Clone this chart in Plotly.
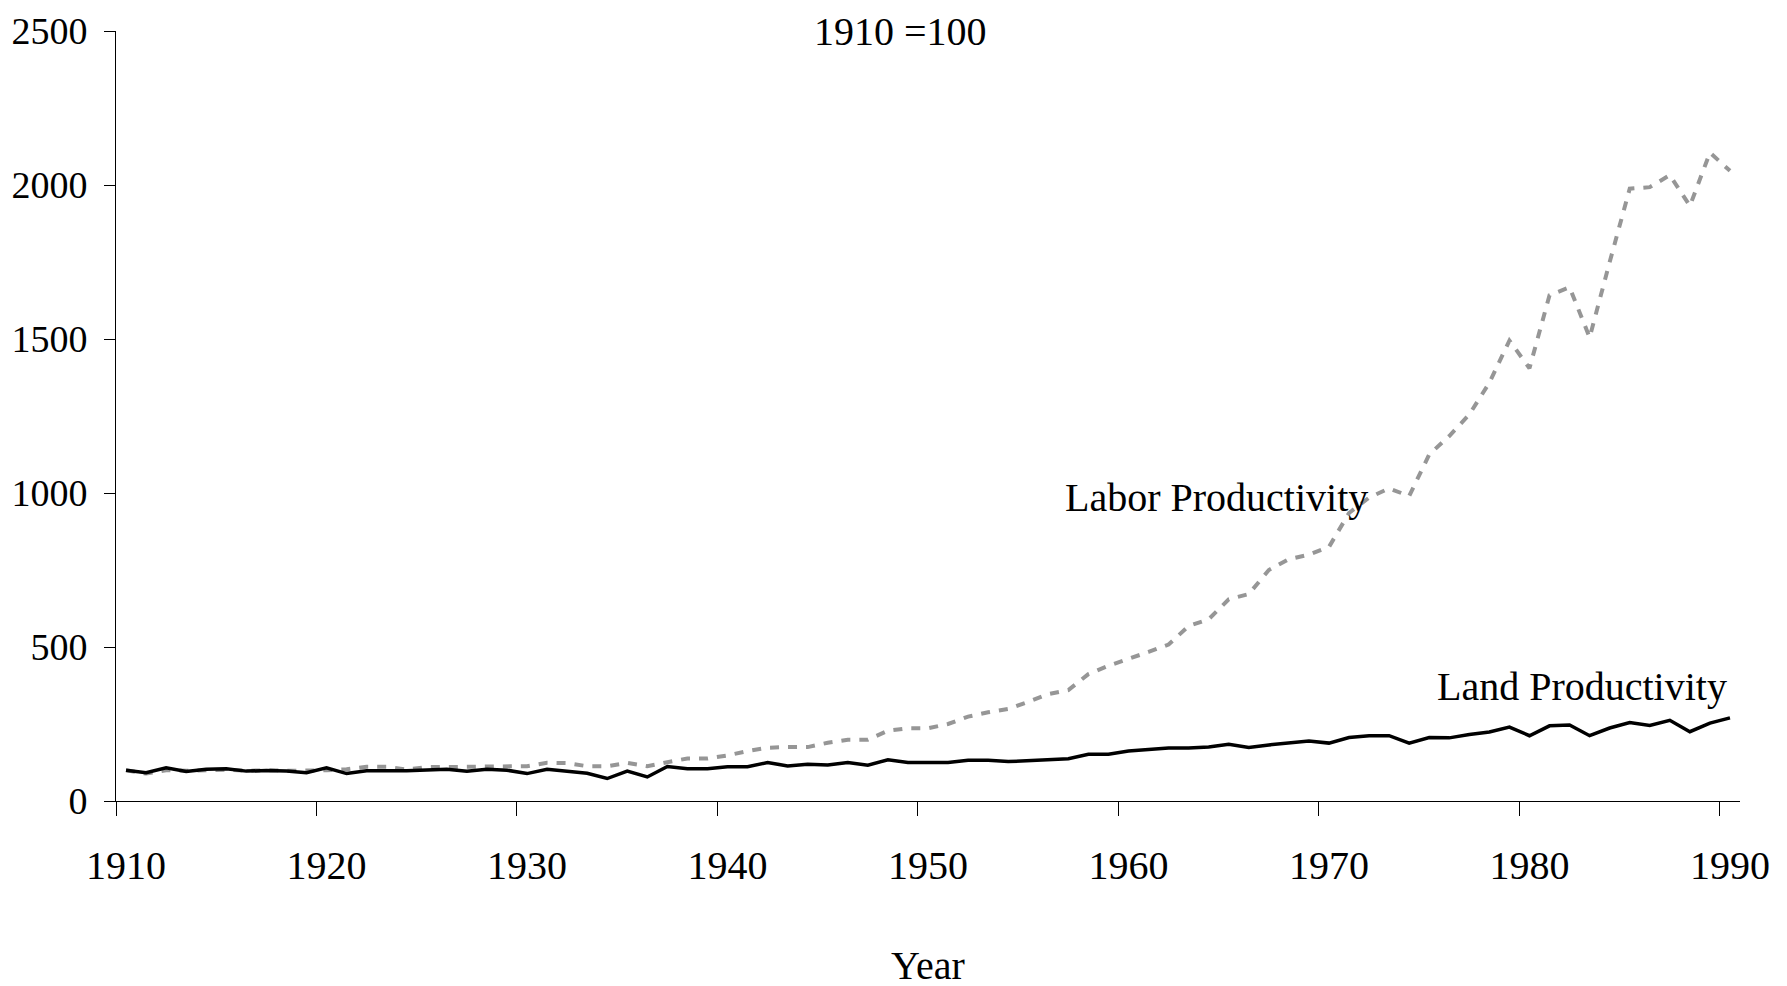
import plotly.graph_objects as go

years = list(range(1910, 1991))

land_productivity = [
    100, 92, 108, 96, 103, 105, 97, 99, 97, 92,          # 1910-1919
    108, 89, 98, 98, 98, 101, 103, 97, 103, 100,         # 1920-1929
    89, 103, 97, 90, 73, 97, 78, 112, 105, 105,          # 1930-1939
    111, 111, 125, 114, 119, 117, 125, 116, 134, 125,    # 1940-1949
    125, 125, 132, 132, 128, 131, 133, 137, 152, 152,    # 1950-1959
    162, 166, 172, 172, 175, 184, 174, 182, 189, 195,    # 1960-1969
    188, 206, 212, 212, 188, 206, 205, 216, 224, 240,    # 1970-1979
    212, 244, 247, 212, 237, 255, 245, 262, 225, 253,    # 1980-1989
    270,                                                 # 1990
]

labor_productivity = [
    100, 89, 100, 98, 100, 102, 98, 100, 98, 98,                 # 1910-1919
    100, 103, 111, 111, 102, 110, 112, 111, 112, 112,            # 1920-1929
    113, 124, 123, 113, 113, 124, 113, 126, 138, 138,            # 1930-1939
    148, 162, 173, 175, 175, 189, 199, 199, 228, 236,            # 1940-1949
    236, 250, 274, 288, 299, 322, 347, 360, 412, 439,            # 1950-1959
    460, 484, 508, 568, 590, 655, 672, 750, 785, 800,            # 1960-1969
    825, 935, 985, 1015, 990, 1125, 1185, 1255, 1358, 1495,      # 1970-1979
    1405, 1642, 1668, 1505, 1750, 1988, 1993, 2032, 1932, 2105,  # 1980-1989
    2046,                                                        # 1990
]

label_years = [1910, 1920, 1930, 1940, 1950, 1960, 1970, 1980, 1990]
y_ticks = [0, 500, 1000, 1500, 2000, 2500]

FONT = "Liberation Serif, Times New Roman, serif"

L, R, T, B = 108, 55, 23, 193
PW = 1787 - L - R
PH = 986 - T - B

fig = go.Figure()
fig.add_trace(go.Scatter(
    x=years, y=labor_productivity, mode="lines", name="Labor Productivity",
    line=dict(color="#969696", width=4, dash="9px,9px"),
))
fig.add_trace(go.Scatter(
    x=years, y=land_productivity, mode="lines", name="Land Productivity",
    line=dict(color="black", width=3.5),
))

fig.update_layout(
    width=1787, height=986,
    margin=dict(l=L, r=R, t=T, b=B),
    paper_bgcolor="white", plot_bgcolor="white",
    showlegend=False,
    font=dict(family=FONT, size=40, color="black"),
    xaxis=dict(
        range=[1909.5, 1990.5], automargin=False,
        tickmode="array", tickvals=label_years, ticktext=[str(y) for y in label_years],
        ticks="", showgrid=False, zeroline=False,
        showline=True, linecolor="black", linewidth=1,
        ticklabelstandoff=29, ticklabeloverflow="allow",
        minor=dict(tickmode="array", tickvals=[y - 0.5 for y in label_years],
                   ticks="outside", ticklen=14, tickcolor="black", tickwidth=1,
                   showgrid=False),
        tickfont=dict(family=FONT, size=40),
    ),
    yaxis=dict(
        range=[0, 2500], automargin=False,
        tickmode="array", tickvals=y_ticks,
        ticks="outside", ticklen=11, tickcolor="black", tickwidth=1,
        showgrid=False, zeroline=False,
        showline=True, linecolor="black", linewidth=1,
        ticklabelstandoff=9, ticklabeloverflow="allow",
        tickfont=dict(family=FONT, size=38),
    ),
    annotations=[
        dict(text="1910 =100", xref="paper", yref="paper", x=(892 - L) / PW,
             y=1.0,
             xanchor="center", yanchor="middle", showarrow=False,
             font=dict(family=FONT, size=40)),
        dict(text="Year", xref="paper", yref="paper", x=0.5, y=-(958 - (T + PH)) / PH,
             xanchor="center", yanchor="middle", showarrow=False,
             font=dict(family=FONT, size=40)),
        dict(text="Labor Productivity", x=1964.4, y=985, xref="x", yref="y",
             xanchor="center", yanchor="middle", showarrow=False,
             font=dict(family=FONT, size=40)),
        dict(text="Land Productivity", x=1982.6, y=371, xref="x", yref="y",
             xanchor="center", yanchor="middle", showarrow=False,
             font=dict(family=FONT, size=40)),
    ],
)

fig.write_html("out.html")
